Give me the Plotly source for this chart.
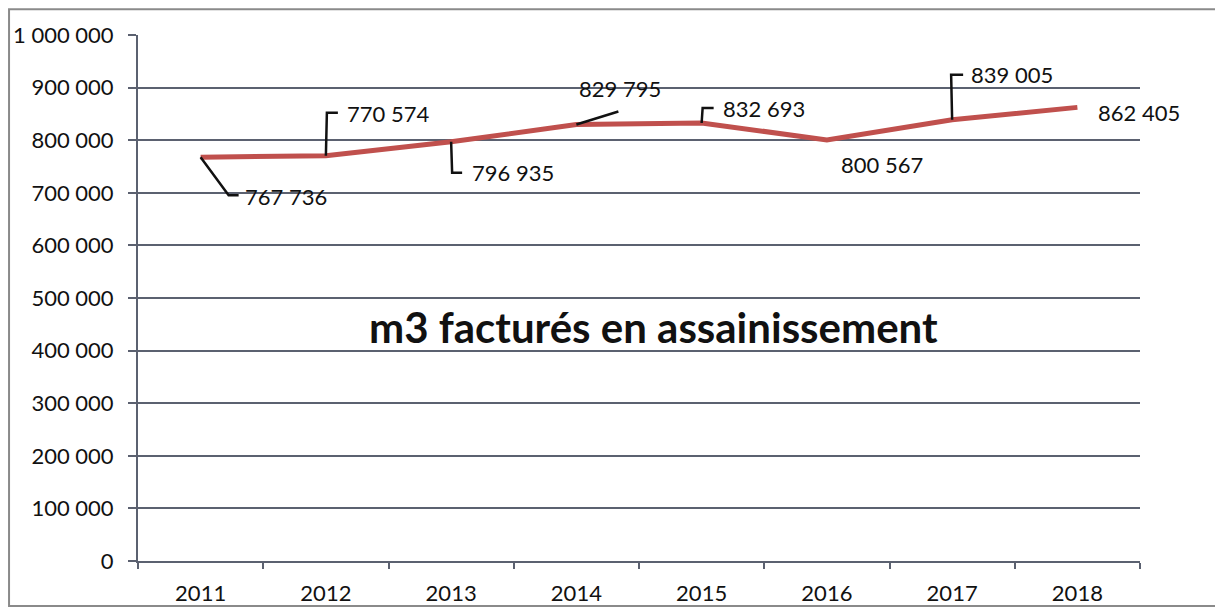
import plotly.graph_objects as go

years = ["2011", "2012", "2013", "2014", "2015", "2016", "2017", "2018"]
volumes = [767736, 770574, 796935, 829795, 832693, 800567, 839005, 862405]
title_text = "m3 facturés en assainissement"

# label placement styles (pixel offsets from each point; y up positive)
label_styles = [
    dict(path="M0,0 L28,-38 L38,-38", dx=42, dy=-39, anchor="left"),
    dict(path="M0,0 L1,43 L12,43", dx=19, dy=42, anchor="left"),
    dict(path="M0,0 L1,-31 L11,-31", dx=19, dy=-31, anchor="left"),
    dict(path="M0,0 L42,13", dx=44, dy=36, anchor="center"),
    dict(path="M0,0 L1,15 L12,15", dx=19, dy=15, anchor="left"),
    dict(path=None, dx=55, dy=-25, anchor="center"),
    dict(path="M0,0 L-1,45 L11,45", dx=17, dy=45, anchor="left"),
    dict(path=None, dx=19, dy=-5, anchor="left"),
]

FONT = "Lato, 'Open Sans', sans-serif"
GRID = "#5b6170"
FS = 22

def fmt(v):
    return f"{v:,}".replace(",", " ")

fig = go.Figure()
fig.add_trace(go.Scatter(
    x=years, y=volumes, mode="lines",
    line=dict(color="#C0504D", width=5),
    hoverinfo="skip", showlegend=False,
))

annotations = []
shapes = []
for i, (yr, v) in enumerate(zip(years, volumes)):
    st = label_styles[i]
    annotations.append(dict(
        x=i, y=v, xref="x", yref="y", text=fmt(v), showarrow=False,
        xanchor=st["anchor"], yanchor="middle",
        xshift=st["dx"], yshift=st["dy"],
        font=dict(family=FONT, size=FS, color="#111"),
    ))
    if st["path"]:
        shapes.append(dict(
            type="path", xref="x", yref="y",
            xsizemode="pixel", ysizemode="pixel",
            xanchor=i, yanchor=v, path=st["path"],
            line=dict(color="#111", width=2.5),
        ))

annotations.append(dict(
    x=0.514, y=0.445, xref="paper", yref="paper", text=f"<b>{title_text}</b>",
    showarrow=False, font=dict(family=FONT, size=42, color="#111"),
))

# outer frame of chart
shapes.append(dict(
    type="rect", xref="paper", yref="paper",
    x0=-0.1287, x1=1.0788, y0=-0.0856, y1=1.049,
    line=dict(color="#8a8a8a", width=2), fillcolor="rgba(0,0,0,0)", layer="below",
))

fig.update_layout(
    width=1223, height=608,
    margin=dict(l=130, r=91, t=27, b=55, autoexpand=False),
    paper_bgcolor="white", plot_bgcolor="white",
    separators=", ",
    font=dict(family=FONT, size=FS, color="#111"),
    annotations=annotations,
    shapes=shapes,
    showlegend=False,
)
fig.update_xaxes(
    type="category", tickson="boundaries", ticks="outside", ticklen=6,
    tickcolor=GRID, tickwidth=2,
    showline=True, linecolor=GRID, linewidth=2,
    showgrid=False, tickfont=dict(family=FONT, size=FS),
    ticklabelstandoff=12, automargin=False,
    range=[-0.5, 7.5],
)
fig.update_yaxes(
    range=[0, 1000000], dtick=100000, tickformat=",d",
    ticks="outside", ticklen=8, tickcolor=GRID, tickwidth=2,
    showline=True, linecolor=GRID, linewidth=2,
    showgrid=True, gridcolor=GRID, gridwidth=2,
    zeroline=False, tickfont=dict(family=FONT, size=FS),
    ticklabelstandoff=10, automargin=False,
)

fig.write_html("out.html")
